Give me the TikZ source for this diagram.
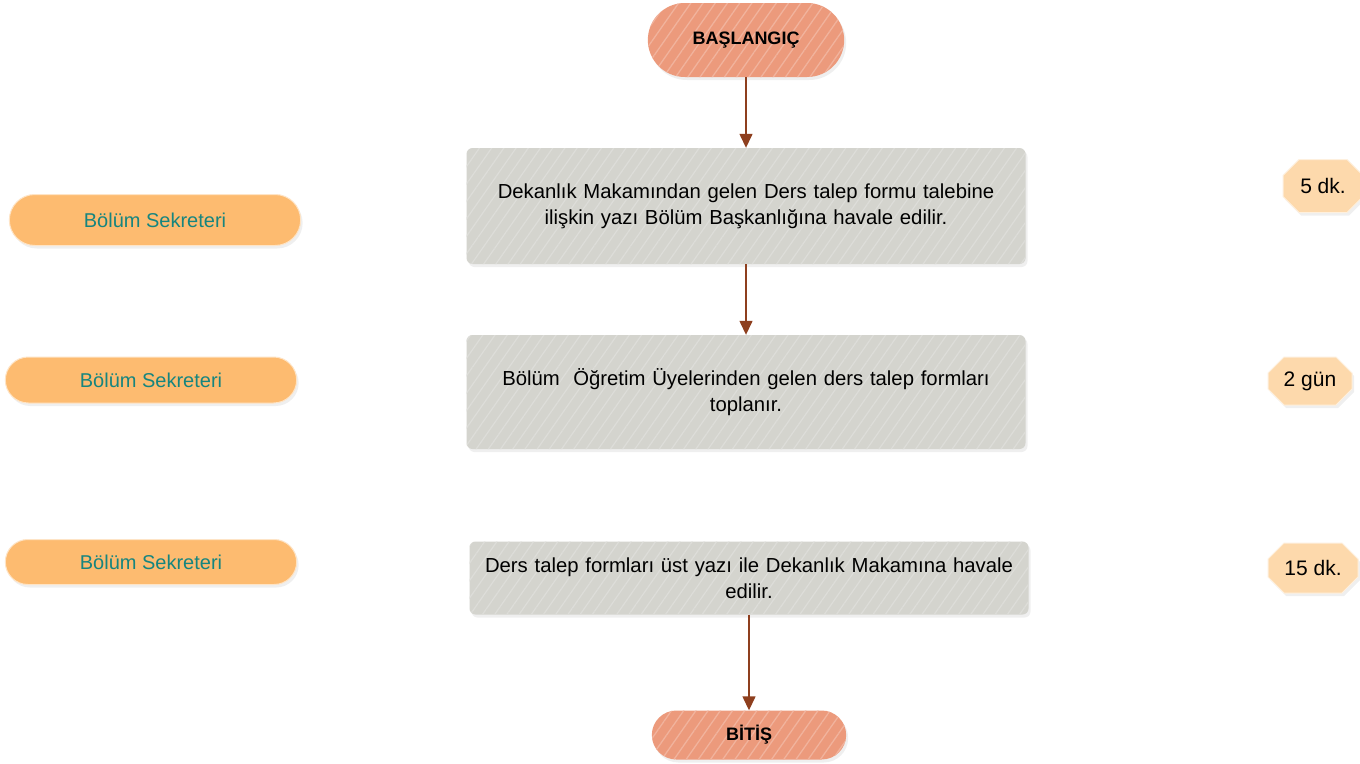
\documentclass[tikz,border=0pt]{standalone}
\usepackage{fontspec}
\setmainfont{Liberation Sans}
\usetikzlibrary{shapes.misc,patterns.meta,shadows,arrows.meta}
\definecolor{salmon}{HTML}{EC9A7C}
\definecolor{boxgray}{HTML}{D4D4CE}
\definecolor{lblorange}{HTML}{FDBB70}
\definecolor{lblteal}{HTML}{16857F}
\definecolor{timepeach}{HTML}{FDD9AC}
\definecolor{arrowbrown}{HTML}{8E3F1E}
\tikzset{
  terminal/.style={rounded rectangle, fill=salmon, minimum width=203pt, minimum height=#1,
    font=\bfseries\fontsize{18}{21}\selectfont, text=black,
    drop shadow={opacity=0.12, shadow xshift=2pt, shadow yshift=-3pt},
    postaction={pattern={Lines[angle=55,distance=10pt,line width=1.3pt]}, pattern color=white!25!salmon}},
  processbox/.style={rectangle, rounded corners=6pt, fill=boxgray, minimum width=559pt,
    minimum height=#1, align=center, font=\fontsize{20.3}{26}\selectfont, text width=545pt,
    drop shadow={opacity=0.12, shadow xshift=2pt, shadow yshift=-3pt},
    postaction={pattern={Lines[angle=55,distance=10pt,line width=1.2pt]}, pattern color=white!22!boxgray}},
  rolebox/.style={rounded rectangle, fill=lblorange, minimum width=298pt, minimum height=#1,
    text=lblteal, font=\fontsize{20}{24}\selectfont,
    draw=white!60!lblorange, line width=1pt,
    drop shadow={opacity=0.12, shadow xshift=2pt, shadow yshift=-3pt}},
  timebox/.style={chamfered rectangle, chamfered rectangle xsep=8pt, chamfered rectangle ysep=8pt,
    fill=timepeach, draw=white!60!timepeach, line width=1pt, minimum width=#1, minimum height=50pt,
    font=\fontsize{21}{25}\selectfont, text=black, inner sep=2pt,
    drop shadow={opacity=0.12, shadow xshift=2pt, shadow yshift=-3pt}},
  flow/.style={draw=arrowbrown, line width=1.4pt, -{Triangle[length=14pt,width=13pt]}}
}
\begin{document}
\begin{tikzpicture}[x=1pt,y=-1pt]
\useasboundingbox[fill=white] (0,0) rectangle (1360,763);
\node[terminal=74pt] (start) at (746,40) {BAŞLANGIÇ};
\node[processbox=116pt] (b1) at (746,206) {Dekanlık Makamından gelen Ders talep formu talebine\\ilişkin yazı Bölüm Başkanlığına havale edilir.};
\node[processbox=114pt] (b2) at (746,392) {Bölüm\ \ Öğretim Üyelerinden gelen ders talep formları\\toplanır.};
\node[processbox=73pt] (b3) at (749,578) {Ders talep formları üst yazı ile Dekanlık Makamına havale\\edilir.};
\node[terminal=49pt, minimum width=201pt] (end) at (749,735) {BİTİŞ};

\node[rolebox=51pt] (r1) at (155,220) {Bölüm Sekreteri};
\node[rolebox=46pt] (r2) at (151,380) {Bölüm Sekreteri};
\node[rolebox=45pt] (r3) at (151,562) {Bölüm Sekreteri};

\node[timebox=80pt, minimum height=53pt] (t1) at (1323,186) {5 dk.};
\node[timebox=84pt, minimum height=48pt] (t2) at (1310,381) {2 gün};
\node[timebox=90pt] (t3) at (1313,568) {15 dk.};

\draw[flow] (start.south) -- (b1.north);
\draw[flow] (b1.south) -- (b2.north);
\draw[flow] (b3.south) -- (end.north);
\end{tikzpicture}
\end{document}
